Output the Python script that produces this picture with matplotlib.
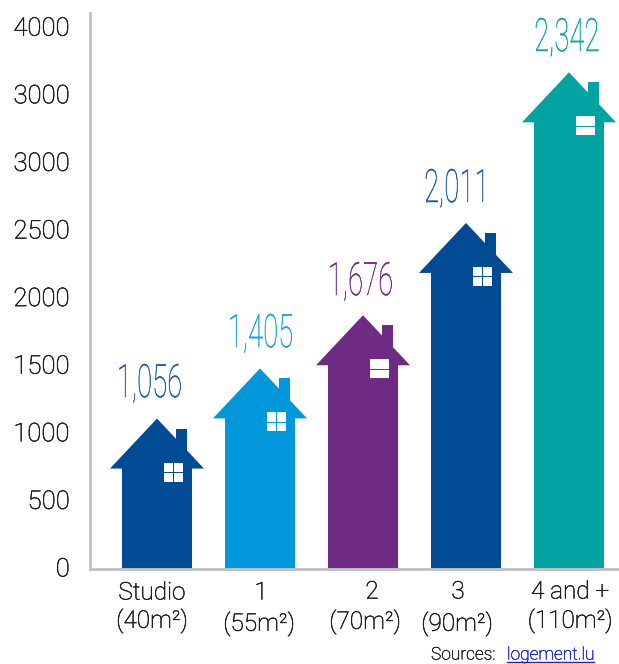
import matplotlib
matplotlib.use("Agg")
import numpy as np
import matplotlib.pyplot as plt
import matplotlib.patheffects as pe
from matplotlib.patches import Polygon, Rectangle
from matplotlib.lines import Line2D
from matplotlib.transforms import ScaledTranslation

W, H = 619, 664
plt.rcParams['font.family'] = ['Roboto', 'Liberation Sans', 'DejaVu Sans']
plt.rcParams['font.weight'] = 'light'

# data
labels_top = ['Studio', '1', '2', '3', '4 and +']
labels_bottom = ['(40m²)', '(55m²)', '(70m²)', '(90m²)', '(110m²)']
value_labels = ['1,056', '1,405', '1,676', '2,011', '2,342']
house_heights = [1109, 1480, 1873, 2556, 3670]   # drawn height on the printed axis
y_ticks = [0, 500, 1000, 1500, 2000, 2500, 3000, 3500, 4000]
y_ticklabels = ['0', '500', '1000', '1500', '2000', '2500', '3000', '3000', '4000']

# style
house_colors = ['#004B93', '#0098DB', '#6F2A84', '#004B93', '#00A3A1']
value_colors = ['#1D5CA6', '#1AA0E0', '#6F2A84', '#1D5CA6', '#10A5A2']
window_cross = [True, True, False, True, False]
value_xy_px = [(149, 384), (260, 334), (360, 282), (459, 189), (567, 38)]
top_xy_px = [(152, 593), (261, 593), (372, 592), (458, 592), (570, 592)]
bot_xy_px = [(152, 621), (259, 624), (365, 622), (457, 624), (570, 621)]

L, R, T, B = 90, 617, 13, 568.5
C0, STEP = 157.0, 103.0
PX_PER_UNIT = 67.6 / 500
TEXT = '#1A1A1A'


def firm(lw, color):
    return [pe.withStroke(linewidth=lw, foreground=color)]


fig = plt.figure(figsize=(W / 100, H / 100), dpi=100)
ax = fig.add_axes([L / W, 1 - B / H, (R - L) / W, (B - T) / H])
ax.set_xlim((L - C0) / STEP, (R - C0) / STEP)
ax.set_ylim(0, (B - T) / PX_PER_UNIT)


def fx(px):
    return px / STEP


def fy(px):
    return px / PX_PER_UNIT


def squeeze(factor, shift=0):
    """agg filter: narrows a drawn text horizontally around its centre."""
    def _f(img, dpi):
        h, w = img.shape[:2]
        nw = max(1, int(round(w * factor)))
        src = (np.arange(nw) + 0.5) / factor - 0.5
        out = np.zeros((h, nw, img.shape[2]), dtype=float)
        xs = np.arange(w)
        for r in range(h):
            for c in range(img.shape[2]):
                out[r, :, c] = np.interp(src, xs, img[r, :, c])
        return out, (w - nw) // 2 + shift, 0
    return _f


for i, (h, c) in enumerate(zip(house_heights, house_colors)):
    eave = h - fy(50)
    ax.add_patch(Rectangle((i + fx(19), h - fy(40)), fx(11), fy(30), fc=c, ec='none', zorder=2))
    ax.add_patch(Polygon([(i - fx(35), 0), (i - fx(35), eave), (i - fx(47), eave), (i, h),
                          (i + fx(47), eave), (i + fx(35), eave), (i + fx(35), 0)],
                         closed=True, fc=c, ec='none', zorder=2))
    wx0, wx1 = i + fx(6.5), i + fx(25.5)
    wy0, wy1 = h - fy(63), h - fy(44)
    ax.add_patch(Rectangle((wx0, wy0), wx1 - wx0, wy1 - wy0, fc='white', ec='none', zorder=3))
    ax.add_line(Line2D([wx0, wx1], [(wy0 + wy1) / 2] * 2, color=c, lw=0.7, zorder=4))
    if window_cross[i]:
        ax.add_line(Line2D([(wx0 + wx1) / 2] * 2, [wy0, wy1], color=c, lw=0.7, zorder=4))

for s in ('top', 'right'):
    ax.spines[s].set_visible(False)
for s in ('left', 'bottom'):
    ax.spines[s].set_color('#BDC1C4')
    ax.spines[s].set_linewidth(2.0)
ax.set_xticks([])
ax.set_yticks(y_ticks)
ax.set_yticklabels(y_ticklabels, fontsize=18.5, color=TEXT)
ax.tick_params(axis='y', length=0, pad=14.5)
up = ScaledTranslation(0, 1.5 / 100, fig.dpi_scale_trans)
for t in ax.get_yticklabels():
    t.set_transform(t.get_transform() + up)
    t.set_path_effects(firm(0.35, TEXT))


def put(px, py, s, **kw):
    return fig.text(px / W, 1 - py / H, s, ha='center', va='center', **kw)


for (x, y), s, c in zip(value_xy_px, value_labels, value_colors):
    # anchor kept away from the right edge so the full glyph run is drawn before narrowing
    dx = 8 if x > 500 else 0
    t = put(x - dx, y, s, color=c, fontsize=33)
    t.set_path_effects(firm(0.4, c))
    t.set_agg_filter(squeeze(0.6, dx))
for (x, y), s in zip(top_xy_px, labels_top):
    put(x, y, s, color=TEXT, fontsize=17.5, path_effects=firm(0.35, TEXT))
for (x, y), s in zip(bot_xy_px, labels_bottom):
    put(x, y, s, color=TEXT, fontsize=17.5, path_effects=firm(0.35, TEXT))

# source line
fig.text(431 / W, 1 - 655 / H, 'Sources: ', ha='left', va='center', fontsize=12.5, color=TEXT,
         path_effects=firm(0.3, TEXT))
fig.text(507 / W, 1 - 655 / H, 'logement.lu', ha='left', va='center', fontsize=12.5, color='#1A22C8',
         path_effects=firm(0.3, '#1A22C8'))
fig.add_artist(Line2D([507 / W, 594 / W], [1 - 662 / H] * 2, color='#1A22C8', lw=1.0))

fig.savefig('out.png', dpi=100)
